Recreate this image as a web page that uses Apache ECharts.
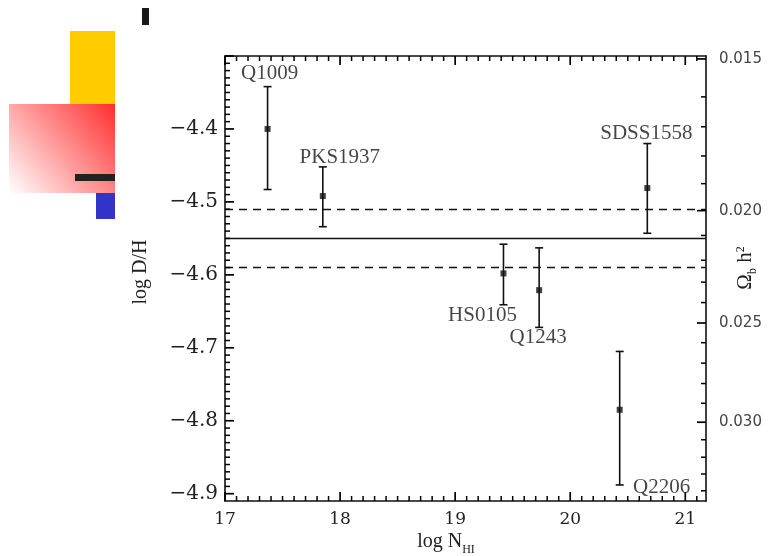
<!DOCTYPE html>
<html><head><meta charset="utf-8">
<script src="https://cdn.jsdelivr.net/npm/echarts@6/dist/echarts.min.js"></script>
<style>html,body{margin:0;padding:0;background:#fff}#c{width:769px;height:556px}</style>
</head><body><div id="c"></div><script>
// ---- data ----
const names   = ['Q1009', 'PKS1937', 'HS0105', 'Q1243', 'Q2206', 'SDSS1558'];
const logNHI  = [17.37, 17.85, 19.42, 19.73, 20.43, 20.67];
const logDH   = [-4.400, -4.492, -4.598, -4.621, -4.785, -4.481];
const yHigh   = [-4.342, -4.452, -4.558, -4.563, -4.705, -4.420];
const yLow    = [-4.483, -4.534, -4.641, -4.672, -4.888, -4.543];
const meanDH  = -4.55;
const bandDH  = [-4.51, -4.59];
const xTicks  = [17, 18, 19, 20, 21];
const yTicks  = [-4.4, -4.5, -4.6, -4.7, -4.8, -4.9];
const omegaLabels   = ['0.015', '0.020', '0.025', '0.030'];
const omegaMajorPos = [-4.304, -4.512, -4.666, -4.802];
const omegaMinorPos = [-4.356, -4.397, -4.437, -4.475, -4.546, -4.580, -4.610, -4.638,
                       -4.693, -4.721, -4.749, -4.776, -4.826, -4.850, -4.873, -4.896];
const titleX = 'log N{sub|HI}';
const titleY = 'log D/H';
const titleY2 = '\u03A9{sub|b} h{sup|2}';

// ---- layout (pixel offsets of the point labels) ----
const labelOffsets = [[2, -55], [17, -39], [-21, 42], [-1, 47], [42, 78], [-1, -55]];

const X_MIN = 17, X_MAX = 21.18, Y_MIN = -4.91, Y_MAX = -4.30;
const ink = '#000';
const serif = 'Liberation Serif';

// tick marks (axis subdivisions: 0.1 in log N, 0.01 in log D/H)
const SIDE_L = 0, SIDE_R = 1, SIDE_B = 2, SIDE_T = 3;
const tickRows = [];
for (let k = 0; k <= 41; k++) {
  const v = +(17 + k * 0.1).toFixed(2);
  const len = (k % 10 === 0) ? 9 : 5;
  tickRows.push([v, SIDE_B, len], [v, SIDE_T, len]);
}
for (let k = 0; k <= 60; k++) {
  const v = +(-4.9 + k * 0.01).toFixed(3);
  tickRows.push([v, SIDE_L, (k % 10 === 0) ? 9 : 5]);
}
omegaMajorPos.forEach(v => tickRows.push([v, SIDE_R, 9]));
omegaMinorPos.forEach(v => tickRows.push([v, SIDE_R, 5]));

const chart = echarts.init(document.getElementById('c'));
const fmtMinus = v => String(v.toFixed(1)).replace('-', '\u2212');
const mkLine = () => ({show: true, onZero: false, lineStyle: {color: '#111', width: 1.6}});
const richStyles = {
  sub: {fontFamily: serif, fontSize: 12, color: '#222', lineHeight: 12, padding: [12, 0, 0, 0], verticalAlign: 'top'},
  sup: {fontFamily: serif, fontSize: 12, color: '#222', lineHeight: 12, verticalAlign: 'top'}
};

const decorations = [
  {type: 'rect', shape: {x: 142, y: 8, width: 7, height: 17}, style: {fill: '#1a1a1a'}},
  {type: 'rect', shape: {x: 70, y: 31, width: 45, height: 73}, style: {fill: '#FFCC00'}},
  {type: 'rect', shape: {x: 9, y: 104, width: 106, height: 89},
   style: {fill: new echarts.graphic.LinearGradient(1, 0, 0, 1, [
     {offset: 0, color: '#FF2E2E'}, {offset: 1, color: '#FFFFFF'}])}},
  {type: 'rect', shape: {x: 75, y: 174, width: 40, height: 7}, style: {fill: '#222222'}},
  {type: 'rect', shape: {x: 96, y: 193, width: 19, height: 26}, style: {fill: '#3333CC'}},
  {type: 'text', x: 446, y: 542,
   style: {text: titleX, fontFamily: serif, fontSize: 20, fill: '#222', align: 'center', verticalAlign: 'middle', rich: richStyles}},
  {type: 'text', x: 141, y: 272, rotation: Math.PI / 2,
   style: {text: titleY, fontFamily: serif, fontSize: 20, fill: '#222', align: 'center', verticalAlign: 'middle'}},
  {type: 'text', x: 745, y: 268, rotation: Math.PI / 2,
   style: {text: titleY2, fontFamily: serif, fontSize: 21, fill: '#222', align: 'center', verticalAlign: 'middle', rich: richStyles}}
];

const option = {
  animation: false,
  grid: {left: 225, top: 56, right: 63, bottom: 55, containLabel: false, outerBoundsMode: 'none'},
  xAxis: [
    {type: 'value', position: 'bottom', min: X_MIN, max: X_MAX, interval: 1,
     axisLine: mkLine(), splitLine: {show: false}, axisTick: {show: false},
     axisLabel: {customValues: xTicks, color: '#222', fontFamily: 'DejaVu Serif', fontSize: 17, margin: 10}},
    {type: 'value', position: 'top', min: X_MIN, max: X_MAX, interval: 1,
     axisLine: mkLine(), splitLine: {show: false}, axisTick: {show: false}, axisLabel: {show: false}}
  ],
  yAxis: [
    {type: 'value', position: 'left', min: Y_MIN, max: Y_MAX,
     axisLine: mkLine(), splitLine: {show: false}, axisTick: {show: false},
     axisLabel: {customValues: yTicks, formatter: v => fmtMinus(v), color: '#222', fontFamily: 'DejaVu Serif', fontSize: 20, margin: 7}},
    {type: 'value', position: 'right', min: Y_MIN, max: Y_MAX,
     axisLine: mkLine(), splitLine: {show: false}, axisTick: {show: false},
     axisLabel: {customValues: omegaMajorPos,
       formatter: v => { let k = 0, d = 1e9; omegaMajorPos.forEach((p, i) => { if (Math.abs(p - v) < d) { d = Math.abs(p - v); k = i; } }); return omegaLabels[k]; },
       color: '#444', fontFamily: 'DejaVu Sans', fontSize: 15, margin: 13}}
  ],
  series: [
    {type: 'custom', xAxisIndex: 0, yAxisIndex: 0, silent: true, z: 3,
     encode: {x: 0, y: [1, 2]},
     data: logNHI.map((x, i) => [x, yHigh[i], yLow[i]]),
     renderItem: function (params, api) {
       const x = api.value(0);
       const pH = api.coord([x, api.value(1)]);
       const pL = api.coord([x, api.value(2)]);
       const w = 4;
       const st = {stroke: '#111', lineWidth: 1.6};
       return {type: 'group', children: [
         {type: 'line', shape: {x1: pH[0], y1: pH[1], x2: pL[0], y2: pL[1]}, style: st},
         {type: 'line', shape: {x1: pH[0] - w, y1: pH[1], x2: pH[0] + w, y2: pH[1]}, style: st},
         {type: 'line', shape: {x1: pL[0] - w, y1: pL[1], x2: pL[0] + w, y2: pL[1]}, style: st}
       ]};
     }},
    {type: 'scatter', xAxisIndex: 0, yAxisIndex: 0, z: 4,
     symbol: 'rect', symbolSize: 6, itemStyle: {color: '#111'},
     data: logNHI.map((x, i) => ({name: names[i], value: [x, logDH[i]], label: {offset: labelOffsets[i]}})),
     label: {show: true, formatter: '{b}', position: 'inside', align: 'center', verticalAlign: 'middle',
             fontFamily: serif, fontSize: 21, color: '#161616'},
     emphasis: {disabled: true},
     markLine: {silent: true, symbol: ['none', 'none'], label: {show: false},
       lineStyle: {color: '#111', width: 1.3},
       emphasis: {disabled: true},
       data: [
         {yAxis: meanDH, lineStyle: {type: 'solid', color: '#111', width: 1.3}},
         {yAxis: bandDH[0], lineStyle: {type: [8, 6], color: '#111', width: 1.3}},
         {yAxis: bandDH[1], lineStyle: {type: [8, 6], color: '#111', width: 1.3}}
       ]}}
  ],
  graphic: {elements: decorations}
};
chart.setOption(option);

// tick marks placed through the chart's own axis scales
const toPx = (x, y) => chart.convertToPixel({seriesIndex: 1}, [x, y]);
const tickEls = tickRows.map(([v, side, len]) => {
  let p, x2, y2;
  if (side === SIDE_L) { p = toPx(X_MIN, v); x2 = p[0] + len; y2 = p[1]; }
  else if (side === SIDE_R) { p = toPx(X_MAX, v); x2 = p[0] - len; y2 = p[1]; }
  else if (side === SIDE_B) { p = toPx(v, Y_MIN); x2 = p[0]; y2 = p[1] - len; }
  else { p = toPx(v, Y_MAX); x2 = p[0]; y2 = p[1] + len; }
  return {type: 'line', silent: true, z: 50,
          shape: {x1: p[0], y1: p[1], x2: x2, y2: y2},
          style: {stroke: ink, lineWidth: len >= 9 ? 1.7 : 1.5}};
});
chart.setOption({graphic: {elements: decorations.concat(tickEls)}});
</script></body></html>
